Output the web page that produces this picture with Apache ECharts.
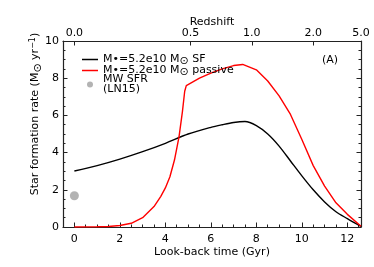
<!DOCTYPE html>
<html>
<head>
<meta charset="utf-8">
<script src="https://cdn.jsdelivr.net/npm/echarts@6/dist/echarts.min.js"></script>
<style>
html,body{margin:0;padding:0;background:#fff;}
#c{width:374px;height:267px;}
</style>
</head>
<body>
<div id="c"></div>
<script>
// Data (look-back time in Gyr, SFR in Msun/yr)
const sfTime = [0, 1, 2, 3, 4, 5, 6, 6.5, 7, 7.5, 8, 8.5, 9, 9.5, 10, 10.5, 11, 11.5, 12, 12.6];
const sfValues = [3.01, 3.3, 3.65, 4.05, 4.5, 5.0, 5.36, 5.5, 5.62, 5.67, 5.45, 5.0, 4.35, 3.55, 2.75, 2.0, 1.35, 0.82, 0.45, 0.03];
const passiveTime = [0, 1, 1.5, 2, 2.5, 3, 3.5, 3.8, 4.0, 4.2, 4.4, 4.6, 4.75, 4.85, 4.92, 5.5, 6.0, 6.5, 7.0, 7.4, 8.0, 8.5, 9.0, 9.5, 10.0, 10.5, 11.0, 11.5, 12.0, 12.6];
const passiveValues = [0, 0.01, 0.03, 0.08, 0.2, 0.5, 1.1, 1.65, 2.1, 2.7, 3.6, 4.85, 6.2, 7.3, 7.6, 8.0, 8.27, 8.5, 8.68, 8.74, 8.45, 7.85, 7.05, 6.05, 4.7, 3.3, 2.2, 1.3, 0.68, 0.04];
const mwTime = [0];
const mwValues = [1.68];
const xMajorTicks = [0, 2, 4, 6, 8, 10, 12];
const yMajorTicks = [0, 2, 4, 6, 8, 10];
const redshiftLabels = ['0.0', '0.5', '1.0', '2.0', '5.0'];
const redshiftLookback = [0, 5.1, 7.8, 10.5, 12.6];

const xMinorTicks = [];
xMajorTicks.forEach(v => { [0.5, 1, 1.5].forEach(d => { if (v + d <= 12.6) xMinorTicks.push(v + d); }); });

const FONT = 'DejaVu Sans';
const AX = '#222';
const chart = echarts.init(document.getElementById('c'), null, {renderer: 'canvas'});

const pair = (xs, ys) => xs.map((x, i) => [x, ys[i]]);

chart.setOption({
  animation: false,
  backgroundColor: '#fff',
  textStyle: {fontFamily: FONT, color: '#000'},
  grid: {left: 63, right: 13, top: 41, bottom: 40},
  legend: {
    orient: 'vertical', left: 77, top: 47, itemGap: -4,
    itemWidth: 16, itemHeight: 6,
    textStyle: {fontFamily: FONT, fontSize: 11, color: '#000', lineHeight: 10,
      rich: {sub: {fontFamily: FONT, fontSize: 11, lineHeight: 10, padding: [4, 0, 0, 0]}}},
    data: [
      {name: 'SF', icon: 'path://M0,0L16,0L16,1.5L0,1.5Z', itemStyle: {color: '#000'}},
      {name: 'passive', icon: 'path://M0,0L16,0L16,1.5L0,1.5Z', itemStyle: {color: '#ff0000'}},
      {name: 'MW', icon: 'circle', itemStyle: {color: '#a0a0a0'}}
    ],
    formatter: function (name) {
      if (name === 'SF') return 'M\u2022=5.2e10 M{sub|\u2299} SF';
      if (name === 'passive') return 'M\u2022=5.2e10 M{sub|\u2299} passive';
      return 'MW SFR\n(LN15)';
    }
  },
  xAxis: [
    {
      type: 'value', position: 'bottom', min: -0.5, max: 12.6,
      name: 'Look-back time (Gyr)', nameLocation: 'middle', nameGap: 20, nameMoveOverlap: false,
      nameTextStyle: {fontFamily: FONT, fontSize: 11, color: '#000'},
      axisLine: {show: true, onZero: false, lineStyle: {color: AX, width: 1.2}},
      axisTick: {show: true, inside: true, length: 4.5, customValues: xMajorTicks, lineStyle: {color: AX}},
      axisLabel: {customValues: xMajorTicks, fontFamily: FONT, fontSize: 11, color: '#000', margin: 7},
      splitLine: {show: false}
    },
    {
      type: 'value', position: 'top', min: -0.5, max: 12.6,
      name: 'Redshift', nameLocation: 'middle', nameGap: 13, nameMoveOverlap: false,
      nameTextStyle: {fontFamily: FONT, fontSize: 11, color: '#000'},
      axisLine: {show: true, onZero: false, lineStyle: {color: AX, width: 1.2}},
      axisTick: {show: true, inside: true, length: 4.5, customValues: redshiftLookback, lineStyle: {color: AX}},
      axisLabel: {customValues: redshiftLookback, fontFamily: FONT, fontSize: 11, color: '#000', margin: 2,
        formatter: v => { const i = redshiftLookback.findIndex(t => Math.abs(t - v) < 1e-6); return i >= 0 ? redshiftLabels[i] : ''; }},
      splitLine: {show: false}
    },
    {
      type: 'value', position: 'bottom', min: -0.5, max: 12.6,
      axisLine: {show: false, onZero: false},
      axisTick: {show: true, inside: true, length: 2.5, customValues: xMinorTicks, lineStyle: {color: AX}},
      axisLabel: {show: false},
      splitLine: {show: false}
    }
  ],
  yAxis: [
    {
      type: 'value', position: 'left', min: 0, max: 10, interval: 2,
      name: 'Star formation rate (M{sub|\u2299} yr{sup|\u22121})', nameLocation: 'middle', nameGap: 19, nameMoveOverlap: false,
      nameTextStyle: {fontFamily: FONT, fontSize: 11, color: '#000', padding: [0, 0, 0, 40],
        rich: {sub: {fontFamily: FONT, fontSize: 11, padding: [6, 0, 0, 0]},
               sup: {fontFamily: FONT, fontSize: 8, padding: [0, 0, 6, 0]}}},
      axisLine: {show: true, onZero: false, lineStyle: {color: AX, width: 1.2}},
      axisTick: {show: true, inside: true, length: 4.5, lineStyle: {color: AX}},
      minorTick: {show: true, splitNumber: 4, length: 2.5, lineStyle: {color: AX}},
      axisLabel: {fontFamily: FONT, fontSize: 11, color: '#000', margin: 4},
      splitLine: {show: false}, minorSplitLine: {show: false}
    },
    {
      type: 'value', position: 'right', min: 0, max: 10, interval: 2,
      axisLine: {show: true, onZero: false, lineStyle: {color: AX, width: 1.2}},
      axisTick: {show: true, inside: true, length: 4.5, lineStyle: {color: AX}},
      minorTick: {show: true, splitNumber: 4, length: 2.5, lineStyle: {color: AX}},
      axisLabel: {show: false},
      splitLine: {show: false}, minorSplitLine: {show: false}
    }
  ],
  graphic: [
    {type: 'text', left: 322, top: 55, style: {text: '(A)', font: '11px "DejaVu Sans"', fill: '#000'}}
  ],
  series: [
    {name: 'SF', type: 'line', xAxisIndex: 0, yAxisIndex: 0, data: pair(sfTime, sfValues),
      showSymbol: false, symbol: 'none', smooth: 0.3, lineStyle: {color: '#000', width: 1.4}, itemStyle: {color: '#000'}},
    {name: 'passive', type: 'line', xAxisIndex: 0, yAxisIndex: 0, data: pair(passiveTime, passiveValues),
      showSymbol: false, symbol: 'none', smooth: false, lineStyle: {color: '#ff0000', width: 1.4}, itemStyle: {color: '#ff0000'}},
    {name: 'MW', type: 'scatter', xAxisIndex: 0, yAxisIndex: 0, data: pair(mwTime, mwValues),
      symbolSize: 9, itemStyle: {color: '#a0a0a0'}}
  ]
});
</script>
</body>
</html>
